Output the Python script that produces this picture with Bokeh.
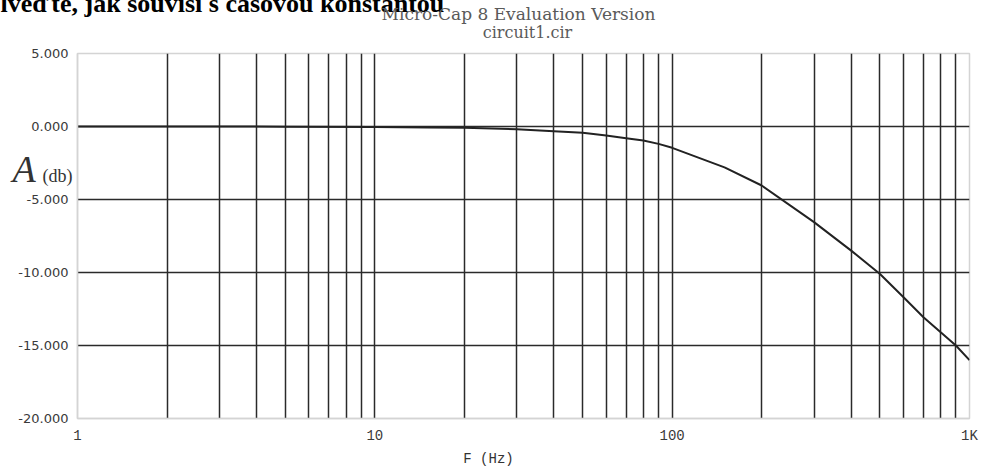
from bokeh.plotting import figure
from bokeh.layouts import column
from bokeh.models import Range1d, FixedTicker, Label, CustomJSTickFormatter, PrintfTickFormatter
from bokeh.embed import file_html
from bokeh.resources import INLINE

# data
freq_hz = [1, 2, 5, 10, 15, 20, 30, 40, 50, 60, 70, 80, 90, 100, 150, 200,
           300, 400, 500, 600, 700, 800, 900, 1000]
gain_db = [0.0, 0.0, -0.01, -0.03, -0.06, -0.09, -0.18, -0.32, -0.43, -0.62,
           -0.80, -0.96, -1.19, -1.46, -2.80, -4.04, -6.55, -8.50, -10.1,
           -11.7, -13.06, -14.1, -15.0, -16.0]
y_ticks = [5, 0, -5, -10, -15, -20]
x_major = [1, 10, 100, 1000]
x_grid = [2, 3, 4, 5, 6, 7, 8, 9, 10, 20, 30, 40, 50, 60, 70, 80, 90, 100,
          200, 300, 400, 500, 600, 700, 800, 900]
h_grid = [0, -5, -10, -15]

W, H = 984, 468
L, R, T, B = 77, 15, 53, 50

p = figure(width=W, height=H, x_axis_type="log", output_backend="svg",
           toolbar_location=None, x_range=Range1d(1, 1000), y_range=Range1d(-20, 5),
           min_border_left=L, min_border_right=R, min_border_top=T, min_border_bottom=B)
p.background_fill_color = "white"
p.border_fill_color = "white"
p.outline_line_color = "#d4d4d4"
p.outline_line_width = 1.5

p.xgrid.ticker = FixedTicker(ticks=x_grid)
p.ygrid.ticker = FixedTicker(ticks=h_grid)
for g in (p.xgrid, p.ygrid):
    g.grid_line_color = "#2a2a2a"
    g.grid_line_width = 1.5
    g.grid_line_alpha = 1.0

p.yaxis.ticker = FixedTicker(ticks=y_ticks)
p.yaxis.formatter = PrintfTickFormatter(format="%.3f")
p.xaxis.ticker = FixedTicker(ticks=x_major)
p.xaxis.formatter = CustomJSTickFormatter(code="return tick >= 1000 ? (tick/1000) + 'K' : tick.toString();")

for ax in (p.xaxis, p.yaxis):
    ax.major_tick_line_color = None
    ax.minor_tick_line_color = None
    ax.axis_line_color = "#d4d4d4"
    ax.axis_line_width = 1.5
    ax.major_label_text_color = "#3a3a3a"

p.yaxis.major_label_text_font = "DejaVu Sans"
p.yaxis.major_label_text_font_size = "13px"
p.yaxis.major_label_standoff = 3
p.xaxis.major_label_text_font = "Liberation Mono"
p.xaxis.major_label_text_font_size = "14px"
p.xaxis.major_label_standoff = 3

p.line(freq_hz, gain_db, line_color="#222222", line_width=2)

# transparent text layer laid over the chart
t = figure(width=W, height=H, output_backend="svg", toolbar_location=None,
           x_axis_type=None, y_axis_type=None, x_range=Range1d(0, 1), y_range=Range1d(0, 1),
           min_border=0, margin=(-H, 0, 0, 0))
t.outline_line_color = None
t.background_fill_color = None
t.border_fill_color = None
t.grid.visible = False


def put(text, x, y, font, size, style="normal", align="left", color="#222222"):
    # canvas pixel coordinates from the top-left (side panel => not clipped to a frame)
    t.add_layout(Label(x=x, y=y, x_units="canvas", y_units="canvas",
                       text=text, text_font=font, text_font_size=size,
                       text_font_style=style, text_align=align,
                       text_baseline="alphabetic", text_color=color), "above")


put("lveďte, jak souvisí s časovou konstantou", 0, 3, "Liberation Serif", "26px", "bold", color="black")
put("Micro-Cap 8 Evaluation Version", 518, 13, "DejaVu Serif", "17px", align="center", color="#5a5a5a")
put("circuit1.cir", 527, 32, "DejaVu Serif", "16px", align="center", color="#5a5a5a")
put("A", 12, 168, "Liberation Serif", "38px", "italic", color="#333333")
put("(db)", 42, 175, "Liberation Serif", "18px", color="#333333")
put("F (Hz)", 488, 458, "Liberation Mono", "14px", align="center", color="#333333")

open("out.html", "w").write(file_html(column(p, t, spacing=0), INLINE))
